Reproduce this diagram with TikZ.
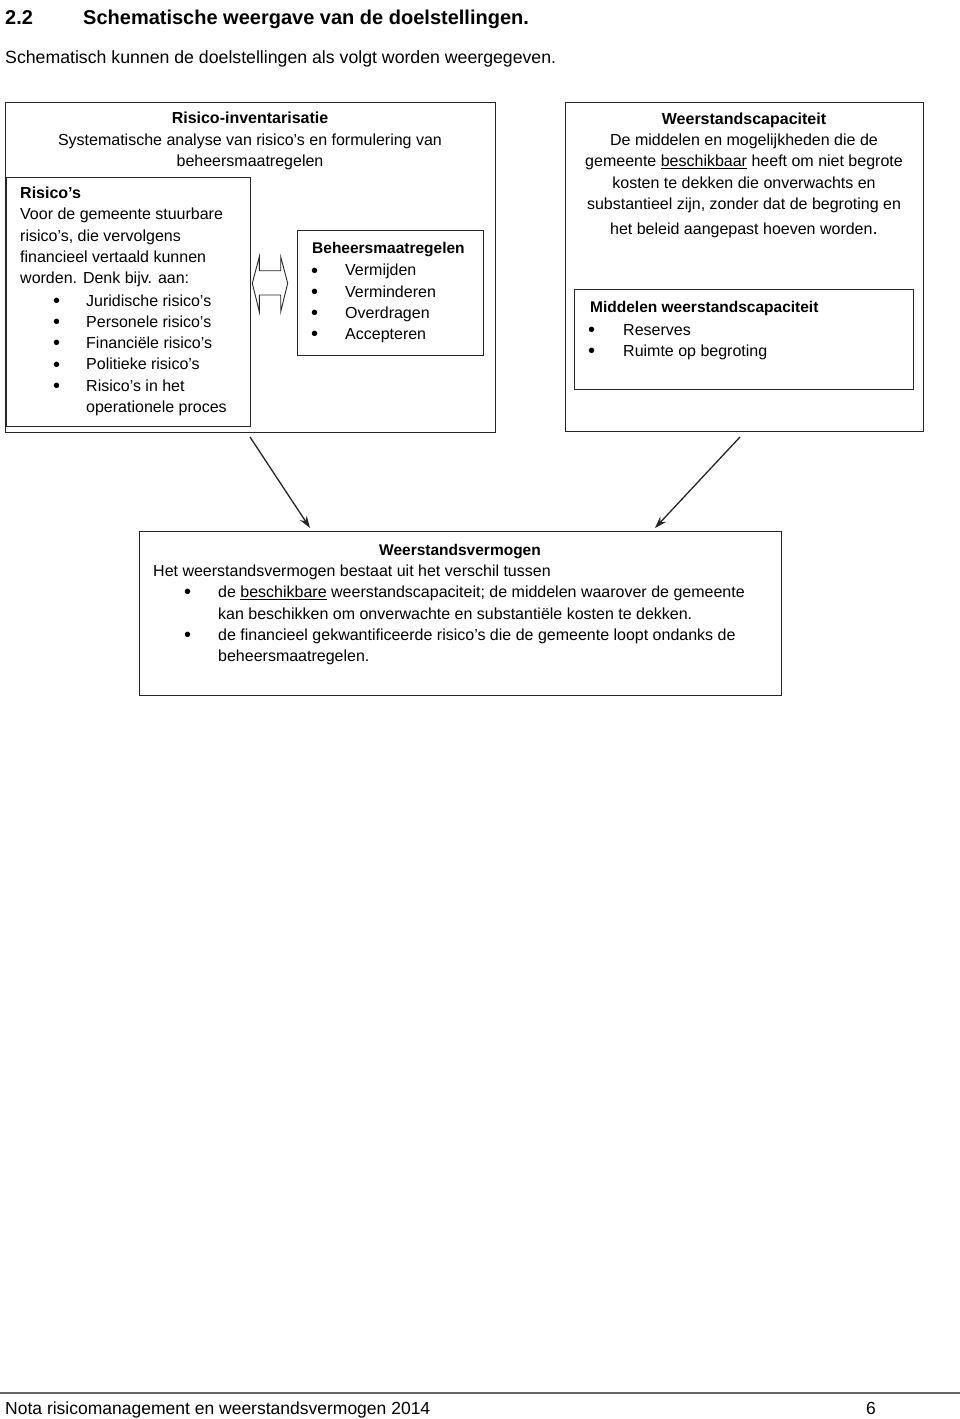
\documentclass[tikz,border=0pt]{standalone}
\usepackage{graphicx}
\usepackage{fontspec}
\setmainfont{Liberation Sans}
\usetikzlibrary{arrows.meta}
\newcommand\mybul{\raisebox{-1.2pt}{\scalebox{1.25}{\textbullet}}}
\begin{document}
\begin{tikzpicture}[x=1pt,y=-1pt,
  box/.style={draw=black!85,line width=1.3pt,anchor=north west,inner sep=0pt},
  txt/.style={anchor=base west,inner sep=0pt,font=\fontsize{16}{21.2}\selectfont,align=left},
  ctxt/.style={anchor=base,inner sep=0pt,font=\fontsize{16}{21.2}\selectfont,align=center},
  hd/.style={font=\fontsize{15.5}{21.2}\selectfont\bfseries},
  arr/.style={line width=1.3pt,draw=black!85,-{Stealth[length=12pt,width=8pt]}}]
\useasboundingbox (0,0) rectangle (960,1419);
\fill[white] (0,0) rectangle (960,1419);
% heading
\node[anchor=base west,inner sep=0pt,font=\fontsize{20}{24}\selectfont\bfseries] (num) at (5,24) {2.2};
\node[anchor=base west,inner sep=0pt,font=\fontsize{20}{24}\selectfont\bfseries] (ttl) at (83,24) {Schematische weergave van de doelstellingen.};
\node[anchor=base west,inner sep=0pt,font=\fontsize{17.7}{21}\selectfont] (sub) at (5,63) {Schematisch kunnen de doelstellingen als volgt worden weergegeven.};
% boxes
\node[box,minimum width=490pt,minimum height=330pt] (inv) at (5,102) {};
\node[box,minimum width=244pt,minimum height=249pt] (ris) at (6,177) {};
\node[box,minimum width=186pt,minimum height=125pt] (beh) at (297,230) {};
\node[box,minimum width=358pt,minimum height=329pt] (cap) at (565,102) {};
\node[box,minimum width=339pt,minimum height=100pt] (mid) at (574,289) {};
\node[box,minimum width=642pt,minimum height=164pt] (vm) at (139,531) {};
% texts: Risico-inventarisatie (anchor base = last line)
\node[ctxt] (invt) at (250,166.2) {{\bfseries Risico-inventarisatie}\\Systematische analyse van risico’s en formulering van\\beheersmaatregelen};
\node[txt] (rist) at (20,283.5) {{\bfseries Risico’s}\\Voor de gemeente stuurbare\\risico’s, die vervolgens\\financieel vertaald kunnen\\worden. Denk bijv. aan:};
\node[txt] (risb) at (53,391) {\mybul\\\mybul\\\mybul\\\mybul\\\mybul};
\node[txt] (risl) at (86,412.2) {Juridische risico’s\\Personele risico’s\\Financiële risico’s\\Politieke risico’s\\Risico’s in het\\operationele proces};
% Beheersmaatregelen
\node[txt,hd] (beht) at (312,253.2) {Beheersmaatregelen};
\node[txt] (behb) at (311,339.5) {\mybul\\\mybul\\\mybul\\\mybul};
\node[txt] (behl) at (345,339.5) {Vermijden\\Verminderen\\Overdragen\\Accepteren};
% Weerstandscapaciteit
\node[ctxt] (capt) at (744,234.5) {{\bfseries Weerstandscapaciteit}\\De middelen en mogelijkheden die de\\gemeente \underline{beschikbaar} heeft om niet begrote\\kosten te dekken die onverwachts en\\substantieel zijn, zonder dat de begroting en\\[4pt]het beleid aangepast hoeven worden{\fontsize{19}{21}\selectfont.}};
\node[txt,hd] (midt) at (590,312.5) {Middelen weerstandscapaciteit};
\node[txt] (midb) at (588,356.2) {\mybul\\\mybul};
\node[txt] (midl) at (623,356.2) {Reserves\\Ruimte op begroting};
% double arrow between Risico's and Beheersmaatregelen
\draw[line width=0.9pt,draw=black!85,line join=miter]
  (252.3,283.3) -- (259.3,256.7) -- (259.3,270.7) -- (280.7,270.7) -- (280.7,256.7)
  -- (287.7,283.3) -- (280.7,311.7) -- (280.7,295) -- (259.3,295) -- (259.3,311.7) -- cycle;
% Weerstandsvermogen
\node[txt,hd,anchor=base] (vmt) at (460,555.5) {Weerstandsvermogen};
\node[txt] (vm1) at (153,576.5) {Het weerstandsvermogen bestaat uit het verschil tussen};
\node[txt] (vmb) at (184,640) {\mybul\\\mbox{}\\\mybul};
\node[txt] (vml) at (218,661.5) {de \underline{beschikbare} weerstandscapaciteit; de middelen waarover de gemeente\\kan beschikken om onverwachte en substantiële kosten te dekken.\\de financieel gekwantificeerde risico’s die de gemeente loopt ondanks de\\beheersmaatregelen.};
% arrows
\coordinate (s1) at (250,437);
\coordinate (e1) at (310,528);
\coordinate (s2) at (740,437);
\coordinate (e2) at (655,528);
\draw[arr] (s1) -- (e1);
\draw[arr] (s2) -- (e2);
% footer
\coordinate (fl) at (0,1393);
\coordinate (fr) at (960,1393);
\draw[line width=1.3pt,draw=black!60] (fl) -- (fr);
\node[anchor=base west,inner sep=0pt,font=\fontsize{17.5}{21}\selectfont] (foot) at (5,1414) {Nota risicomanagement en weerstandsvermogen 2014};
\node[anchor=base west,inner sep=0pt,font=\fontsize{17.5}{21}\selectfont] (page) at (866,1414) {6};
\end{tikzpicture}
\end{document}
